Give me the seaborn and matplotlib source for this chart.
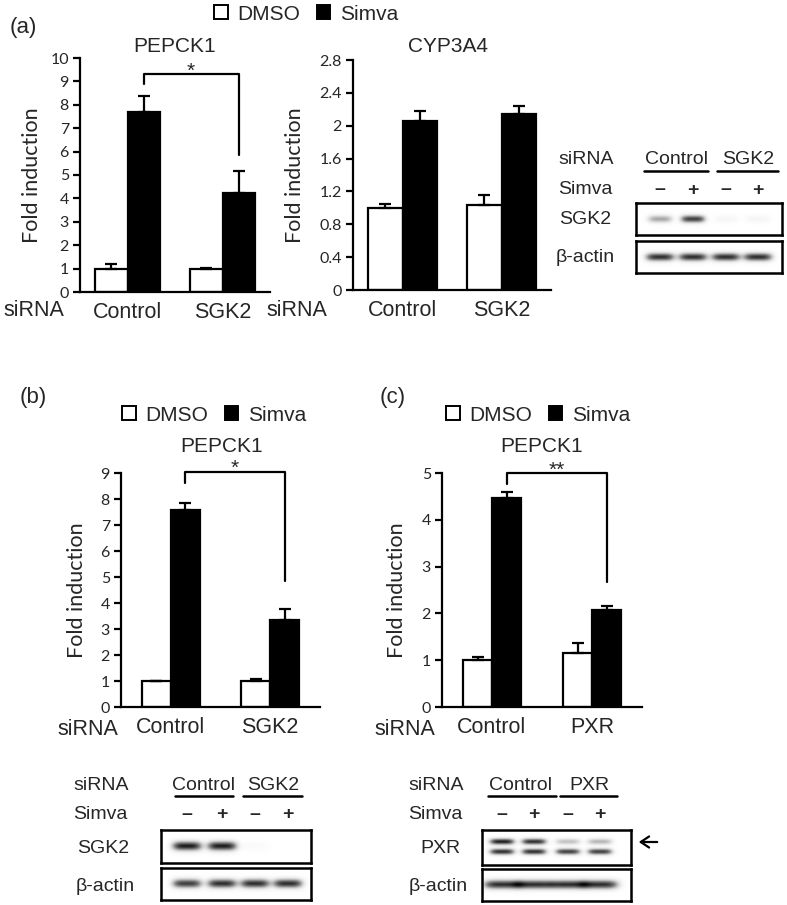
import numpy as np
import pandas as pd
import matplotlib
matplotlib.use("Agg")
import matplotlib.pyplot as plt
import seaborn as sns
from matplotlib.patches import Patch, FancyArrowPatch
from matplotlib.lines import Line2D

# ---------------- data ----------------
treatments = ["DMSO", "Simva"]
colors = {"DMSO": "white", "Simva": "black"}

a_sirna = ["Control", "SGK2"]
a_pepck_dmso = [1.0, 1.0]
a_pepck_dmso_err = [0.2, 0.04]
a_pepck_simva = [7.68, 4.23]
a_pepck_simva_err = [0.68, 0.96]
a_pepck_ticks = [0, 1, 2, 3, 4, 5, 6, 7, 8, 9, 10]

a_cyp_dmso = [1.0, 1.04]
a_cyp_dmso_err = [0.05, 0.12]
a_cyp_simva = [2.06, 2.14]
a_cyp_simva_err = [0.12, 0.1]
a_cyp_ticks = [0, 0.4, 0.8, 1.2, 1.6, 2, 2.4, 2.8]

b_sirna = ["Control", "SGK2"]
b_dmso = [1.0, 1.0]
b_dmso_err = [0.01, 0.07]
b_simva = [7.58, 3.36]
b_simva_err = [0.26, 0.41]
b_ticks = [0, 1, 2, 3, 4, 5, 6, 7, 8, 9]

c_sirna = ["Control", "PXR"]
c_dmso = [1.0, 1.16]
c_dmso_err = [0.07, 0.2]
c_simva = [4.47, 2.07]
c_simva_err = [0.13, 0.09]
c_ticks = [0, 1, 2, 3, 4, 5]

# western blot band intensities (lanes: Control-, Control+, KD-, KD+)
blot_signs = ["\u2013", "+", "\u2013", "+"]
a_blot_sgk2 = [0.45, 0.8, 0.07, 0.08]
a_blot_actin = [0.85, 0.85, 0.85, 0.85]
b_blot_sgk2 = [0.9, 0.9, 0.04, 0.0]
b_blot_actin = [0.8, 0.85, 0.85, 0.85]
c_blot_pxr_upper = [0.9, 0.85, 0.35, 0.4]
c_blot_pxr_lower = [0.85, 0.85, 0.8, 0.8]
c_blot_actin = [0.85, 0.85, 0.85, 0.85]

# ---------------- style ----------------
sns.set_style("white")
plt.rcParams["font.family"] = ["Liberation Sans", "DejaVu Sans"]
TICKFONT = ["Lato", "DejaVu Sans"]
CAT_FS = 15.5
TITLE_FS = 15
BLOT_FS = 14

W, H = 787, 905
fig = plt.figure(figsize=(W / 100, H / 100), dpi=100)


def rect(x0, x1, yt, yb):
    return [x0 / W, 1 - yb / H, (x1 - x0) / W, (yb - yt) / H]


def fx(x):
    return x / W


def fy(y):
    return 1 - y / H


def bar_panel(pos, cats, dmso, dmso_err, simva, simva_err, ticks, width,
              ylabel_x, tick_fs=11.5):
    ax = fig.add_axes(rect(*pos))
    df = pd.DataFrame({
        "siRNA": cats * 2,
        "treatment": ["DMSO"] * len(cats) + ["Simva"] * len(cats),
        "value": list(dmso) + list(simva),
    })
    sns.barplot(data=df, x="siRNA", y="value", hue="treatment",
                hue_order=treatments, palette=colors, edgecolor="black",
                linewidth=1.6, width=width, errorbar=None, legend=False,
                ax=ax, zorder=2)
    bars = sorted(ax.patches, key=lambda p: p.get_x())
    errs = []
    vals = []
    for i in range(len(cats)):
        errs += [dmso_err[i], simva_err[i]]
        vals += [dmso[i], simva[i]]
    xs = [b.get_x() + b.get_width() / 2 for b in bars]
    ax.errorbar(xs, vals, yerr=[np.zeros(len(errs)), errs], fmt="none",
                ecolor="black", elinewidth=1.6, capsize=4, capthick=1.6,
                zorder=3)
    ax.set_xlim(-0.5, len(cats) - 0.5)
    ax.set_ylim(ticks[0], ticks[-1])
    ax.set_yticks(ticks)
    ax.set_yticklabels([f"{t:g}" for t in ticks], family=TICKFONT,
                       fontsize=tick_fs)
    ax.set_xticks(range(len(cats)))
    ax.set_xticklabels(cats, fontsize=CAT_FS)
    ax.set_xticks([-0.5, 0.5, 1.5], minor=True)
    ax.tick_params(axis="x", which="major", length=0, pad=7)
    ax.tick_params(axis="x", which="minor", length=5, width=1.6,
                   direction="out", color="black")
    ax.tick_params(axis="y", length=5, width=1.6, direction="out",
                   color="black", pad=3, left=True)
    ax.set_xlabel("")
    ax.set_ylabel("Fold induction", family=TICKFONT, fontsize=15.5)
    ax.yaxis.set_label_coords(ylabel_x, 0.5)
    sns.despine(ax=ax)
    for s in ("left", "bottom"):
        ax.spines[s].set_linewidth(1.6)
        ax.spines[s].set_color("black")
    return ax


def bracket(ax, x0, x1, ytop, yl, yr, star, star_y):
    ax.plot([x0, x0, x1, x1], [yl, ytop, ytop, yr], color="black", lw=1.6,
            clip_on=False, zorder=4)
    ax.text((x0 + x1) / 2, star_y, star, ha="center", va="baseline",
            fontsize=15)


def legend(cx, cy):
    handles = [Patch(facecolor=colors[t], edgecolor="black", linewidth=1.4)
               for t in treatments]
    fig.legend(handles, treatments, loc="center", bbox_to_anchor=(fx(cx), fy(cy)),
               ncol=2, frameon=False, fontsize=15, handlelength=0.65,
               handleheight=0.65, handletextpad=0.45, columnspacing=0.8,
               borderpad=0)


# ---------------- panel (a) ----------------
fig.text(fx(10), fy(28), "(a)", fontsize=16, ha="left", va="center")
legend(306, 14)
ax1 = bar_panel((80, 270, 58, 292), a_sirna, a_pepck_dmso, a_pepck_dmso_err,
                a_pepck_simva, a_pepck_simva_err, a_pepck_ticks, 0.68, -0.2)
fig.text(fx(175), fy(46), "PEPCK1", fontsize=TITLE_FS, ha="center", va="center")
bracket(ax1, 0.17, 1.17, 9.33, 8.9, 5.87, "*", 9.2)
fig.text(fx(3), fy(310), "siRNA", fontsize=CAT_FS, ha="left", va="center")

ax2 = bar_panel((353, 551, 60, 290), a_sirna, a_cyp_dmso, a_cyp_dmso_err,
                a_cyp_simva, a_cyp_simva_err, a_cyp_ticks, 0.7, -0.242)
fig.text(fx(448), fy(46), "CYP3A4", fontsize=TITLE_FS, ha="center", va="center")
fig.text(fx(266), fy(310), "siRNA", fontsize=CAT_FS, ha="left", va="center")


def blot_box(pos, lanes, bands):
    ax = fig.add_axes(rect(*pos))
    hh, ww = 80, 300
    X, Y = np.meshgrid(np.linspace(0, 1, ww), np.linspace(0, 1, hh))
    img = np.zeros((hh, ww))
    for yc, sy, sx, inten in bands:
        for lx, v in zip(lanes, inten):
            img += v * np.exp(-((X - lx) / sx) ** 4 - ((Y - yc) / sy) ** 2)
    img = np.clip(img, 0, 1)
    ax.imshow(img, cmap="Greys", vmin=0, vmax=1, extent=(0, 1, 1, 0),
              aspect="auto", interpolation="bilinear")
    ax.set_xlim(0, 1)
    ax.set_ylim(1, 0)
    ax.set_xticks([])
    ax.set_yticks([])
    for s in ax.spines.values():
        s.set_visible(True)
        s.set_linewidth(1.8)
        s.set_color("black")
    return ax


def hline(x0, x1, y):
    fig.add_artist(Line2D([fx(x0), fx(x1)], [fy(y), fy(y)],
                          transform=fig.transFigure, color="black", lw=1.8))


def blot_header(label_x, y1, y2, groups, sign_x, fs=BLOT_FS):
    fig.text(fx(label_x), fy(y1), "siRNA", fontsize=fs, ha="left", va="center")
    fig.text(fx(label_x), fy(y2), "Simva", fontsize=fs, ha="left", va="center")
    for name, cx, ux0, ux1 in groups:
        fig.text(fx(cx), fy(y1), name, fontsize=fs, ha="center", va="center")
        hline(ux0, ux1, y1 + 11)
    for sx_, s in zip(sign_x, blot_signs):
        fig.text(fx(sx_), fy(y2), s, fontsize=fs, ha="center", va="center",
                 fontweight="bold")


# blot (a)
blot_header(558, 160, 190, [("Control", 676, 644, 708), ("SGK2", 748, 717, 778)],
            [660, 693, 726, 758])
lanes_a = [0.164, 0.39, 0.616, 0.836]
blot_box((636, 782, 203, 235), lanes_a, [(0.5, 0.12, 0.085, a_blot_sgk2)])
blot_box((636, 782, 241, 273), lanes_a, [(0.5, 0.13, 0.1, a_blot_actin)])
fig.text(fx(585), fy(219), "SGK2", fontsize=BLOT_FS, ha="center", va="center")
fig.text(fx(556), fy(257), "\u03b2-actin", fontsize=BLOT_FS, ha="left", va="center")

# ---------------- panel (b) ----------------
fig.text(fx(20), fy(397), "(b)", fontsize=16, ha="left", va="center")
legend(214, 415)
ax3 = bar_panel((121, 320, 473, 707), b_sirna, b_dmso, b_dmso_err, b_simva,
                b_simva_err, b_ticks, 0.58, -0.171)
fig.text(fx(222), fy(446), "PEPCK1", fontsize=TITLE_FS, ha="center", va="center")
bracket(ax3, 0.145, 1.145, 9.03, 8.6, 4.83, "*", 8.98)
fig.text(fx(57), fy(729), "siRNA", fontsize=CAT_FS, ha="left", va="center")

# ---------------- panel (c) ----------------
fig.text(fx(380), fy(397), "(c)", fontsize=16, ha="left", va="center")
legend(538, 415)
ax4 = bar_panel((442, 642, 473, 707), c_sirna, c_dmso, c_dmso_err, c_simva,
                c_simva_err, c_ticks, 0.58, -0.175)
fig.text(fx(542), fy(446), "PEPCK1", fontsize=TITLE_FS, ha="center", va="center")
bracket(ax4, 0.145, 1.145, 4.99, 4.77, 2.68, "**", 4.95)
fig.text(fx(374), fy(729), "siRNA", fontsize=CAT_FS, ha="left", va="center")

# blot (b)
blot_header(73, 785, 814, [("Control", 203, 175, 233), ("SGK2", 273, 243, 302)],
            [187, 222, 255, 288])
lanes_b = [0.173, 0.407, 0.627, 0.847]
blot_box((161, 311, 830, 863), lanes_b, [(0.5, 0.14, 0.1, b_blot_sgk2)])
blot_box((161, 311, 868, 900), lanes_b, [(0.5, 0.14, 0.1, b_blot_actin)])
fig.text(fx(103), fy(848), "SGK2", fontsize=BLOT_FS, ha="center", va="center")
fig.text(fx(105), fy(886), "\u03b2-actin", fontsize=BLOT_FS, ha="center", va="center")

# blot (c)
blot_header(408, 785, 814, [("Control", 520, 488, 556), ("PXR", 589, 560, 617)],
            [502, 534, 568, 600])
lanes_c = [0.134, 0.349, 0.577, 0.792]
blot_box((482, 631, 830, 865), lanes_c,
         [(0.33, 0.09, 0.085, c_blot_pxr_upper), (0.62, 0.09, 0.085, c_blot_pxr_lower)])
blot_box((482, 631, 869, 901), lanes_c, [(0.5, 0.14, 0.125, c_blot_actin)])
fig.text(fx(440), fy(848), "PXR", fontsize=BLOT_FS, ha="center", va="center")
fig.text(fx(438), fy(886), "\u03b2-actin", fontsize=BLOT_FS, ha="center", va="center")
fig.add_artist(FancyArrowPatch(
    (fx(660), fy(842)), (fx(636), fy(842)), transform=fig.transFigure,
    arrowstyle="->,head_length=6,head_width=4", color="black", lw=1.6,
    mutation_scale=1))

fig.savefig("out.png", dpi=100)
